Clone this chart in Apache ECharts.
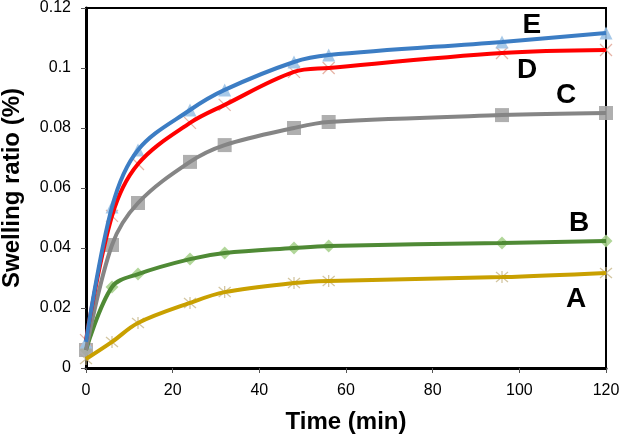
<!DOCTYPE html>
<html><head><meta charset="utf-8">
<script src="https://cdn.jsdelivr.net/npm/echarts@6/dist/echarts.min.js"></script>
<style>html,body{margin:0;padding:0;background:#fff}#c{width:622px;height:436px}</style>
</head><body><div id="c"></div>
<script>
const times = [0, 6, 12, 24, 32, 48, 56, 96, 120];
const seriesA = [0.003, 0.0087, 0.015, 0.0217, 0.0253, 0.0283, 0.029, 0.0303, 0.0317];
const seriesB = [0.006, 0.027, 0.0313, 0.0363, 0.0383, 0.040, 0.0407, 0.0417, 0.0423];
const seriesC = [0.006, 0.041, 0.055, 0.0687, 0.0743, 0.080, 0.082, 0.0843, 0.085];
const seriesD = [0.0093, 0.0507, 0.068, 0.0817, 0.0877, 0.0987, 0.100, 0.105, 0.106];
const seriesE = [0.0087, 0.0537, 0.0727, 0.086, 0.0927, 0.102, 0.1043, 0.1087, 0.1117];
const names = ['A', 'B', 'C', 'D', 'E'];
const labelPos = {A: [113.1, 0.023], B: [113.8, 0.0483], C: [110.8, 0.091], D: [101.8, 0.0993], E: [102.9, 0.1143]};
const xTitle = 'Time (min)';
const yTitle = 'Swelling ratio (%)';

const pairs = v => times.map((t, i) => [t, v[i]]);
const font = 'Liberation Sans, Arial, sans-serif';
const styles = {
  A: {line: '#c9a000', mk: '#c8b88a', symbol: 'path://M0 0L10 10M10 0L0 10M5 -1L5 11', size: 12, stroke: true},
  B: {line: '#4f8a35', mk: '#a9d18e', symbol: 'diamond', size: 13},
  C: {line: '#858585', mk: '#a6a6a6', symbol: 'rect', size: 14},
  D: {line: '#ff0000', mk: '#e0a090', symbol: 'path://M0 0L10 10M10 0L0 10', size: 12, stroke: true},
  E: {line: '#3c7dc4', mk: '#9dc3e6', symbol: 'triangle', size: 13}
};
const data = {A: seriesA, B: seriesB, C: seriesC, D: seriesD, E: seriesE};
const series = [];
names.forEach(n => {
  const s = styles[n];
  series.push({
    type: 'scatter', data: pairs(data[n]), symbol: s.symbol, symbolSize: s.size, z: 2,
    itemStyle: s.stroke ? {color: 'rgba(0,0,0,0)', borderColor: s.mk, borderWidth: 1.3} : {color: s.mk, opacity: 0.9},
    silent: true
  });
});
names.forEach(n => {
  const s = styles[n];
  series.push({
    type: 'line', data: pairs(data[n]), smooth: 0.35, showSymbol: false, z: 3,
    lineStyle: {color: s.line, width: 4},
    markPoint: {
      symbol: 'circle', symbolSize: 1, itemStyle: {color: 'rgba(0,0,0,0)'},
      label: {show: true, position: 'inside', formatter: n, color: '#000', fontFamily: font, fontWeight: 'bold', fontSize: 28},
      data: [{coord: labelPos[n]}]
    }
  });
});

const chart = echarts.init(document.getElementById('c'));
chart.setOption({
  animation: false,
  backgroundColor: '#fff',
  grid: {left: 86, right: 16, top: 8, bottom: 68, outerBoundsMode: 'none', containLabel: false, show: true, borderColor: '#000', borderWidth: 2, backgroundColor: 'transparent'},
  xAxis: {
    type: 'value', min: 0, max: 120, interval: 20,
    name: xTitle, nameLocation: 'middle', nameGap: 42,
    nameTextStyle: {fontFamily: font, fontWeight: 'bold', fontSize: 24, color: '#000'},
    axisLine: {show: true, lineStyle: {color: '#000', width: 3}},
    axisTick: {show: true, length: 5, lineStyle: {color: '#555', width: 1}},
    axisLabel: {fontFamily: font, fontSize: 16, color: '#000', margin: 15},
    splitLine: {show: false}
  },
  yAxis: {
    type: 'value', min: 0, max: 0.12, interval: 0.02,
    name: yTitle, nameLocation: 'middle', nameGap: 62,
    nameTextStyle: {fontFamily: font, fontWeight: 'bold', fontSize: 24, color: '#000'},
    axisLine: {show: true, lineStyle: {color: '#000', width: 3}},
    axisTick: {show: true, length: 5, lineStyle: {color: '#555', width: 1}},
    axisLabel: {fontFamily: font, fontSize: 16, color: '#000', margin: 15},
    splitLine: {show: false}
  },
  series: series
});
</script></body></html>
